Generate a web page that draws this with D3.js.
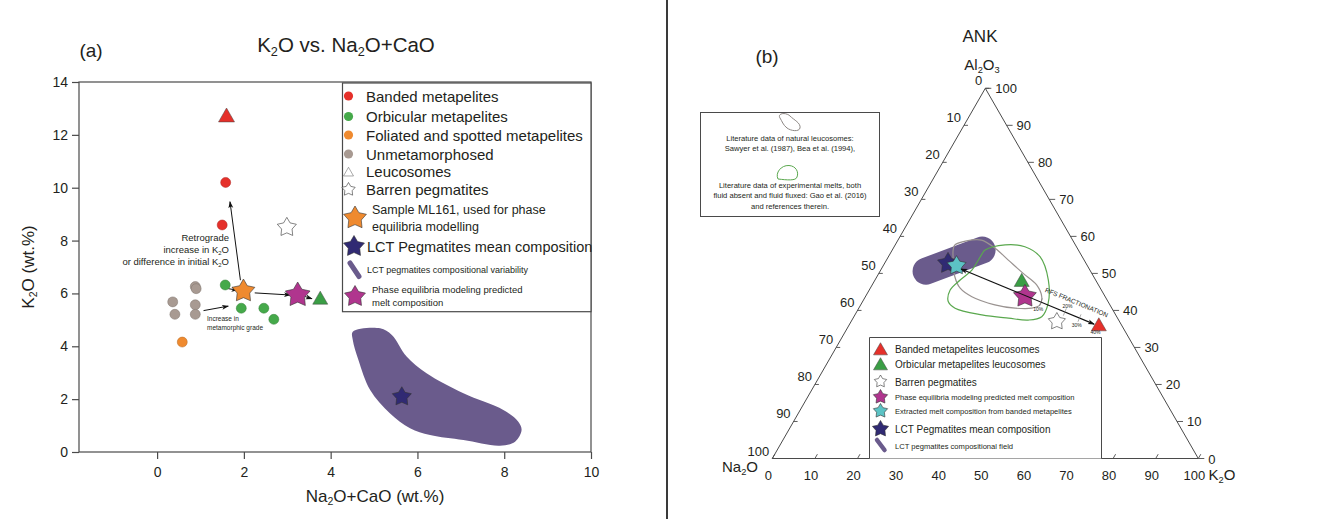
<!DOCTYPE html>
<html lang="en">
<head>
<meta charset="utf-8">
<title>K2O vs. Na2O+CaO and ANK diagram</title>
<script src="https://d3js.org/d3.v7.min.js"></script>
<style>
  body { margin: 0; background: #fff; }
  svg text { font-family: "Liberation Sans", Arial, sans-serif; fill: #231f20; }
</style>
</head>
<body>
<div id="chart"></div>
<script>
// ---------- panel (a) data : [Na2O+CaO, K2O] wt.%
var bandedPts    = [[1.58, 10.2], [1.50, 8.59]];
var orbicularPts = [[1.57, 6.32], [1.94, 5.44], [2.46, 5.44], [2.69, 5.02]];
var foliatedPts  = [[0.58, 4.16]];
var unmetaPts    = [[0.36, 5.68], [0.41, 5.21], [0.88, 6.26], [0.90, 6.18], [0.88, 5.57], [0.88, 5.21]];
var leucoBandedA    = [1.60, 12.7];
var leucoOrbicularA = [3.76, 5.79];
var barrenA      = [2.99, 8.5];
var ml161A       = [1.99, 6.09];
var meltPredA    = [3.24, 5.94];
var lctMeanA     = [5.64, 2.09];
var lctFieldA = [[4.51, 4.55], [5.14, 4.68], [5.41, 4.43], [5.75, 3.61], [6.21, 2.98], [7.06, 2.22],
                 [7.98, 1.59], [8.32, 1.15], [8.40, 0.83], [8.25, 0.39], [7.90, 0.24], [7.06, 0.45],
                 [6.29, 0.64], [5.83, 0.90], [5.37, 1.46], [4.91, 2.35], [4.64, 3.48], [4.51, 4.24]];
var arrowsA = [
  [[1.92, 6.50], [1.68, 9.47]],   // retrograde
  [[1.07, 5.35], [1.64, 5.52]],   // increase in metamorphic grade
  [[1.64, 6.18], [1.86, 6.12]],
  [[2.25, 6.02], [3.07, 5.94]],
  [[3.41, 5.88], [3.57, 5.80]]
];
var xTicksA = [0, 2, 4, 6, 8, 10];
var yTicksA = [0, 2, 4, 6, 8, 10, 12, 14];

// ---------- panel (b) data : ternary [Al2O3, K2O] (Na2O = 100 - both)
var leucoBandedB    = [35.9, 58.7];
var leucoOrbicularB = [47.9, 34.6];
var barrenB   = [37.0, 48.3];
var meltPredB = [43.8, 37.4];
var extractB  = [52.1, 17.2];
var lctMeanB  = [52.7, 14.9];
var lctFieldB = [[50.6, 10.8], [56.3, 21.1]];
var leucoLitB = [[57.7, 14.0], [58.8, 16.2], [59.0, 19.6], [56.8, 23.9], [53.6, 28.6], [50.0, 33.9],
                 [46.9, 38.6], [43.7, 41.4], [41.5, 42.1], [40.6, 40.6], [40.6, 36.7], [41.5, 31.5],
                 [43.7, 25.0], [46.0, 21.1], [49.1, 18.3], [53.2, 15.9], [56.3, 14.3]];
var expMeltB  = [[56.3, 21.8], [57.7, 25.8], [57.2, 30.7], [54.5, 35.6], [48.2, 40.7], [41.9, 43.8],
                 [38.3, 44.1], [37.4, 41.4], [37.9, 36.5], [38.8, 29.8], [40.6, 22.6], [42.4, 20.1],
                 [45.5, 19.0], [48.2, 20.0], [50.9, 21.4], [55.0, 21.6]];
var rfsArrowB = [[51.2, 18.7], [36.3, 57.4]];
var rfsTicks  = [{label: "10%", t: 0.60, side: 1}, {label: "20%", t: 0.78, side: -1},
                 {label: "30%", t: 0.89, side: 1}, {label: "40%", t: 1.03, side: 1}];
var ternTicks = [0, 10, 20, 30, 40, 50, 60, 70, 80, 90, 100];

var C = {
  red: "#e5302a", green: "#45a94a", greenTri: "#3a9e45", orange: "#ef8a2f",
  grey: "#a89a92", magenta: "#b0358e", navy: "#302a73", cyan: "#5cc3c5",
  field: "#6a5b8c", axis: "#4a4a4a"
};

var svg = d3.select("#chart").append("svg")
  .attr("width", 1334).attr("height", 519)
  .style("display", "block");

var defs = svg.append("defs");
defs.append("marker").attr("id", "head")
  .attr("viewBox", "0 0 10 10").attr("refX", 9).attr("refY", 5)
  .attr("markerWidth", 7).attr("markerHeight", 7)
  .attr("orient", "auto-start-reverse").attr("markerUnits", "userSpaceOnUse")
  .append("path").attr("d", "M0,1.5 L10,5 L0,8.5 L2.5,5 Z").attr("fill", "#111");

// text with subscripts written as "K_2O"
function rich(t, s) {
  s.split(/(_\d)/).forEach(function(p) {
    if (!p) return;
    if (p[0] === "_") t.append("tspan").attr("baseline-shift", "-30%").attr("font-size", "62%").text(p.slice(1));
    else t.append("tspan").text(p);
  });
  return t;
}

function starPath(R) {
  var pts = [];
  for (var i = 0; i < 10; i++) {
    var r = i % 2 ? R * 0.55 : R;
    var a = -Math.PI / 2 + i * Math.PI / 5;
    pts.push([r * Math.cos(a), r * Math.sin(a)]);
  }
  return "M" + pts.join("L") + "Z";
}
function triPath(w) {
  var h = w * 0.87;
  return "M0," + (-h * 0.6) + "L" + (w / 2) + "," + (h * 0.4) + "L" + (-w / 2) + "," + (h * 0.4) + "Z";
}

function drawStar(g, x, y, R, fill) {
  g.append("path").attr("d", starPath(R)).attr("transform", "translate(" + x + "," + y + ")")
    .attr("fill", fill).attr("stroke", "#333").attr("stroke-width", 0.6);
}
function drawTri(g, x, y, w, fill) {
  g.append("path").attr("d", triPath(w)).attr("transform", "translate(" + x + "," + y + ")")
    .attr("fill", fill).attr("stroke", fill === "#fff" ? "#555" : "#444").attr("stroke-width", 0.5);
}

// divider between panels
svg.append("line").attr("x1", 667).attr("x2", 667).attr("y1", 0).attr("y2", 519)
  .attr("stroke", "#3a3a3a").attr("stroke-width", 2);

// ================= PANEL (a) =================
var ga = svg.append("g");
var x = d3.scaleLinear().domain([-1.8, 10]).range([79, 591]);
var y = d3.scaleLinear().domain([0, 14]).range([452, 82]);

ga.append("text").attr("x", 91).attr("y", 57).attr("text-anchor", "middle")
  .style("font-size", "19px").text("(a)");
rich(ga.append("text").attr("x", 346).attr("y", 52).attr("text-anchor", "middle")
  .style("font-size", "20.5px"), "K_2O vs. Na_2O+CaO");

// LCT field
ga.append("path")
  .attr("d", d3.line().x(function(d) { return x(d[0]); }).y(function(d) { return y(d[1]); })
    .curve(d3.curveCatmullRomClosed.alpha(0.5))(lctFieldA))
  .attr("fill", C.field);

// frame and axes
ga.append("rect").attr("x", x(-1.8)).attr("y", y(14)).attr("width", x(10) - x(-1.8))
  .attr("height", y(0) - y(14)).attr("fill", "none").attr("stroke", C.axis).attr("stroke-width", 1.2);

var xa = ga.append("g").attr("transform", "translate(0," + y(0) + ")")
  .call(d3.axisBottom(x).tickValues(xTicksA).tickSize(7).tickSizeOuter(0).tickPadding(8));
var ya = ga.append("g").attr("transform", "translate(" + x(-1.8) + ",0)")
  .call(d3.axisLeft(y).tickValues(yTicksA).tickSize(7).tickSizeOuter(0).tickPadding(4));
[xa, ya].forEach(function(a) {
  a.select(".domain").remove();
  a.selectAll(".tick line").attr("stroke", C.axis).attr("stroke-width", 1.2);
  a.selectAll(".tick text").style("font-size", "14px").style("font-family", "Liberation Sans, Arial, sans-serif").attr("fill", "#231f20");
});

rich(ga.append("text").attr("x", 375).attr("y", 502).attr("text-anchor", "middle")
  .style("font-size", "17px"), "Na_2O+CaO (wt.%)");
rich(ga.append("text").attr("transform", "translate(34," + y(7) + ") rotate(-90)")
  .attr("text-anchor", "middle").style("font-size", "17px"), "K_2O (wt.%)");

// arrows
arrowsA.forEach(function(a) {
  ga.append("line").attr("x1", x(a[0][0])).attr("y1", y(a[0][1]))
    .attr("x2", x(a[1][0])).attr("y2", y(a[1][1]))
    .attr("stroke", "#111").attr("stroke-width", 1).attr("marker-end", "url(#head)");
});

// annotations
var ann = ga.append("g").style("font-size", "9.5px").attr("text-anchor", "end");
ann.append("text").attr("x", 229).attr("y", 241).text("Retrograde").attr("fill", "#333");
rich(ann.append("text").attr("x", 229).attr("y", 253).attr("fill", "#333"), "increase in K_2O");
rich(ann.append("text").attr("x", 229).attr("y", 265).attr("fill", "#333"), "or difference in initial K_2O");
ga.append("text").attr("x", 207).attr("y", 321).style("font-size", "6.5px").text("Increase in");
ga.append("text").attr("x", 207).attr("y", 330).style("font-size", "6.5px").text("metamorphic grade");

// points
function circles(g, pts, fill) {
  g.selectAll(null).data(pts).enter().append("circle")
    .attr("cx", function(d) { return x(d[0]); }).attr("cy", function(d) { return y(d[1]); })
    .attr("r", 5).attr("fill", fill).attr("stroke", d3.color(fill).darker(0.8)).attr("stroke-width", 0.5);
}
circles(ga, unmetaPts, C.grey);
circles(ga, foliatedPts, C.orange);
circles(ga, orbicularPts, C.green);
circles(ga, bandedPts, C.red);
drawTri(ga, x(leucoBandedA[0]), y(leucoBandedA[1]), 16, C.red);
drawTri(ga, x(leucoOrbicularA[0]), y(leucoOrbicularA[1]), 15, C.greenTri);
drawStar(ga, x(barrenA[0]), y(barrenA[1]), 10, "#fff");
drawStar(ga, x(ml161A[0]), y(ml161A[1]), 12, C.orange);
drawStar(ga, x(meltPredA[0]), y(meltPredA[1]), 13, C.magenta);
drawStar(ga, x(lctMeanA[0]), y(lctMeanA[1]), 10, C.navy);

// legend (a)
var la = ga.append("g");
la.append("rect").attr("x", 342.5).attr("y", 83).attr("width", 248.5).attr("height", 228.7)
  .attr("fill", "#fff").attr("stroke", C.axis).attr("stroke-width", 1.2);
var legA = [
  {label: "Banded metapelites", c: C.red, y: 96},
  {label: "Orbicular metapelites", c: C.green, y: 116.5},
  {label: "Foliated and spotted metapelites", c: C.orange, y: 135},
  {label: "Unmetamorphosed", c: C.grey, y: 154}
];
legA.forEach(function(d) {
  la.append("circle").attr("cx", 348.5).attr("cy", d.y).attr("r", 4.6).attr("fill", d.c);
  la.append("text").attr("x", 366).attr("y", d.y + 5.5).style("font-size", "15px").text(d.label);
});
drawTri(la, 348.5, 172.5, 10, "#fff");
la.append("text").attr("x", 366).attr("y", 177).style("font-size", "15px").text("Leucosomes");
drawStar(la, 348.5, 189.5, 7, "#fff");
la.append("text").attr("x", 366).attr("y", 195).style("font-size", "15px").text("Barren pegmatites");
drawStar(la, 355, 218, 12, C.orange);
la.append("text").attr("x", 372).attr("y", 214).style("font-size", "12.5px").text("Sample ML161, used for phase");
la.append("text").attr("x", 372).attr("y", 231).style("font-size", "12.5px").text("equilibria modelling");
drawStar(la, 354, 246.5, 11, C.navy);
la.append("text").attr("x", 367).attr("y", 252).style("font-size", "14.5px").text("LCT Pegmatites mean composition");
la.append("line").attr("x1", 350).attr("y1", 263).attr("x2", 359).attr("y2", 276.5)
  .attr("stroke", C.field).attr("stroke-width", 5).attr("stroke-linecap", "round");
la.append("text").attr("x", 367).attr("y", 273).style("font-size", "9px").text("LCT pegmatites compositional variability");
drawStar(la, 355, 296.5, 11, C.magenta);
la.append("text").attr("x", 372).attr("y", 293).style("font-size", "9.5px").text("Phase equilibria modeling predicted");
la.append("text").attr("x", 372).attr("y", 306).style("font-size", "9.5px").text("melt composition");

// ================= PANEL (b) =================
var gb = svg.append("g");
var tx = d3.scaleLinear().domain([0, 100]).range([772.3, 1198.3]);
var ty = d3.scaleLinear().domain([0, 100]).range([458.5, 88.3]);
function P(a, k) { return [tx(k + a / 2), ty(a)]; }

gb.append("text").attr("x", 767).attr("y", 63).attr("text-anchor", "middle")
  .style("font-size", "19px").text("(b)");
gb.append("text").attr("x", 980).attr("y", 42).attr("text-anchor", "middle")
  .style("font-size", "17px").text("ANK");
rich(gb.append("text").attr("x", 982).attr("y", 70).attr("text-anchor", "middle")
  .style("font-size", "15px"), "Al_2O_3");
rich(gb.append("text").attr("x", 740).attr("y", 472).attr("text-anchor", "middle")
  .style("font-size", "15px"), "Na_2O");
rich(gb.append("text").attr("x", 1222).attr("y", 480).attr("text-anchor", "middle")
  .style("font-size", "15px"), "K_2O");

// triangle frame
var top_ = P(100, 0), left_ = P(0, 0), right_ = P(0, 100);
gb.append("path").attr("d", "M" + [top_, left_, right_].join("L") + "Z")
  .attr("fill", "none").attr("stroke", C.axis).attr("stroke-width", 1);

var tk = gb.append("g").attr("stroke", C.axis).attr("stroke-width", 0.9);
var tl = gb.append("g").style("font-size", "13px");
ternTicks.forEach(function(v) {
  // left edge: Na2O
  var p = P(100 - v, 0);
  tk.append("line").attr("x1", p[0]).attr("y1", p[1]).attr("x2", p[0] + 4).attr("y2", p[1]);
  tl.append("text").attr("x", p[0] - 3).attr("y", p[1] - 3).attr("text-anchor", "end").text(v);
  // bottom edge: K2O
  var b = P(0, v);
  tk.append("line").attr("x1", b[0]).attr("y1", b[1]).attr("x2", b[0] + 2.5).attr("y2", b[1] - 4.3);
  tl.append("text").attr("x", b[0] - 4).attr("y", b[1] + 21).attr("text-anchor", "middle").text(v);
  // right edge: Al2O3
  var r = P(v, 100 - v);
  tk.append("line").attr("x1", r[0]).attr("y1", r[1]).attr("x2", r[0] + 6).attr("y2", r[1]);
  tl.append("text").attr("x", r[0] + 10).attr("y", r[1] + 5).attr("text-anchor", "start").text(v);
});

var tline = d3.line().x(function(d) { return P(d[0], d[1])[0]; }).y(function(d) { return P(d[0], d[1])[1]; });

// LCT field (capsule)
gb.append("path").attr("d", tline(lctFieldB)).attr("stroke", C.field).attr("stroke-width", 27)
  .attr("stroke-linecap", "round").attr("fill", "none");
// literature contours
gb.append("path").attr("d", tline.curve(d3.curveCatmullRomClosed.alpha(0.5))(leucoLitB))
  .attr("fill", "none").attr("stroke", "#9a9391").attr("stroke-width", 1.2);
gb.append("path").attr("d", tline(expMeltB))
  .attr("fill", "none").attr("stroke", "#5aa84e").attr("stroke-width", 1.2);
tline.curve(d3.curveLinear);

// points
var pb;
pb = P(barrenB[0], barrenB[1]); drawStar(gb, pb[0], pb[1], 9, "#fff");
pb = P(leucoOrbicularB[0], leucoOrbicularB[1]); drawTri(gb, pb[0], pb[1], 15, C.greenTri);
pb = P(meltPredB[0], meltPredB[1]); drawStar(gb, pb[0], pb[1], 12, C.magenta);
pb = P(lctMeanB[0], lctMeanB[1]); drawStar(gb, pb[0], pb[1], 11, C.navy);
pb = P(extractB[0], extractB[1]); drawStar(gb, pb[0], pb[1], 10, C.cyan);
pb = P(leucoBandedB[0], leucoBandedB[1]); drawTri(gb, pb[0], pb[1], 15, C.red);

// RFS fractionation arrow
var a0 = P(rfsArrowB[0][0], rfsArrowB[0][1]), a1 = P(rfsArrowB[1][0], rfsArrowB[1][1]);
gb.append("line").attr("x1", a0[0]).attr("y1", a0[1]).attr("x2", a1[0]).attr("y2", a1[1])
  .attr("stroke", "#111").attr("stroke-width", 1.1)
  .attr("marker-start", "url(#head)").attr("marker-end", "url(#head)");
var ang = Math.atan2(a1[1] - a0[1], a1[0] - a0[0]) * 180 / Math.PI;
var ux = (a1[0] - a0[0]), uy = (a1[1] - a0[1]);
var len = Math.sqrt(ux * ux + uy * uy); ux /= len; uy /= len;
rfsTicks.forEach(function(d) {
  var px = a0[0] + ux * len * d.t, py = a0[1] + uy * len * d.t;
  if (d.t < 1) {
    gb.append("line").attr("x1", px + uy * 4).attr("y1", py - ux * 4).attr("x2", px - uy * 4).attr("y2", py + ux * 4)
      .attr("stroke", "#777").attr("stroke-width", 0.6);
  }
  gb.append("text").attr("x", px + uy * -7 * d.side).attr("y", py + ux * 7 * d.side + 2)
    .attr("text-anchor", "middle").style("font-size", "5px").attr("fill", "#555").text(d.label);
});
gb.append("text").attr("transform", "translate(" + (a0[0] + ux * len * 0.83 + uy * 11) + "," + (a0[1] + uy * len * 0.83 - ux * 11) + ") rotate(" + ang + ")")
  .attr("text-anchor", "middle").style("font-size", "6.5px").attr("fill", "#444").text("RFS FRACTIONATION");

// legend box top-left
var lt = gb.append("g");
lt.append("rect").attr("x", 700.5).attr("y", 112.5).attr("width", 179).attr("height", 104)
  .attr("fill", "#fff").attr("stroke", C.axis).attr("stroke-width", 1);
lt.append("path").attr("d", "M780,118 C777,113 786,112 790,116 C794,120 801,123 800,128 C799,132 791,131 787,128 C783,125 782,121 780,118 Z")
  .attr("fill", "none").attr("stroke", "#8d8784").attr("stroke-width", 1);
lt.append("path").attr("d", "M778,179 C775,173 781,165 789,165.5 C796,166 799,172 797,177 C796,181 787,180 778,179 Z")
  .attr("fill", "none").attr("stroke", "#5aa84e").attr("stroke-width", 1);
var ltText = [["Literature data of natural leucosomes:", 140.5], ["Sawyer et al. (1987), Bea et al. (1994),", 150.5],
              ["Literature data of experimental melts, both", 188], ["fluid absent and fluid fluxed: Gao et al. (2016)", 198],
              ["and references therein.", 209]];
ltText.forEach(function(d) {
  lt.append("text").attr("x", 790).attr("y", d[1]).attr("text-anchor", "middle")
    .style("font-size", "7.6px").attr("fill", "#333").text(d[0]);
});

// legend box bottom
var lb = gb.append("g");
lb.append("path").attr("d", "M869.5,458.5 V337.5 H1101.5 V458.5")
  .attr("fill", "#fff").attr("stroke", C.axis).attr("stroke-width", 1);
drawTri(lb, 880.5, 350, 14, C.red);
lb.append("text").attr("x", 895).attr("y", 353).style("font-size", "10px").text("Banded metapelites leucosomes");
drawTri(lb, 880.5, 365, 14, C.greenTri);
lb.append("text").attr("x", 895).attr("y", 368).style("font-size", "10px").text("Orbicular metapelites leucosomes");
drawStar(lb, 880.5, 381.5, 6.5, "#fff");
lb.append("text").attr("x", 895).attr("y", 385.5).style("font-size", "10px").text("Barren pegmatites");
drawStar(lb, 880.5, 397, 7.5, C.magenta);
lb.append("text").attr("x", 895).attr("y", 400).style("font-size", "7.6px").text("Phase equilibria modeling predicted melt composition");
drawStar(lb, 880.5, 411, 7.5, C.cyan);
lb.append("text").attr("x", 895).attr("y", 414).style("font-size", "7.6px").text("Extracted melt composition from banded metapelites");
drawStar(lb, 880.5, 429, 8.5, C.navy);
lb.append("text").attr("x", 895).attr("y", 433).style("font-size", "10px").text("LCT Pegmatites mean composition");
lb.append("line").attr("x1", 877).attr("y1", 440).attr("x2", 884.5).attr("y2", 450)
  .attr("stroke", C.field).attr("stroke-width", 4.5).attr("stroke-linecap", "round");
lb.append("text").attr("x", 895).attr("y", 448.5).style("font-size", "7.6px").text("LCT pegmatites compositional field");
</script>
</body>
</html>
